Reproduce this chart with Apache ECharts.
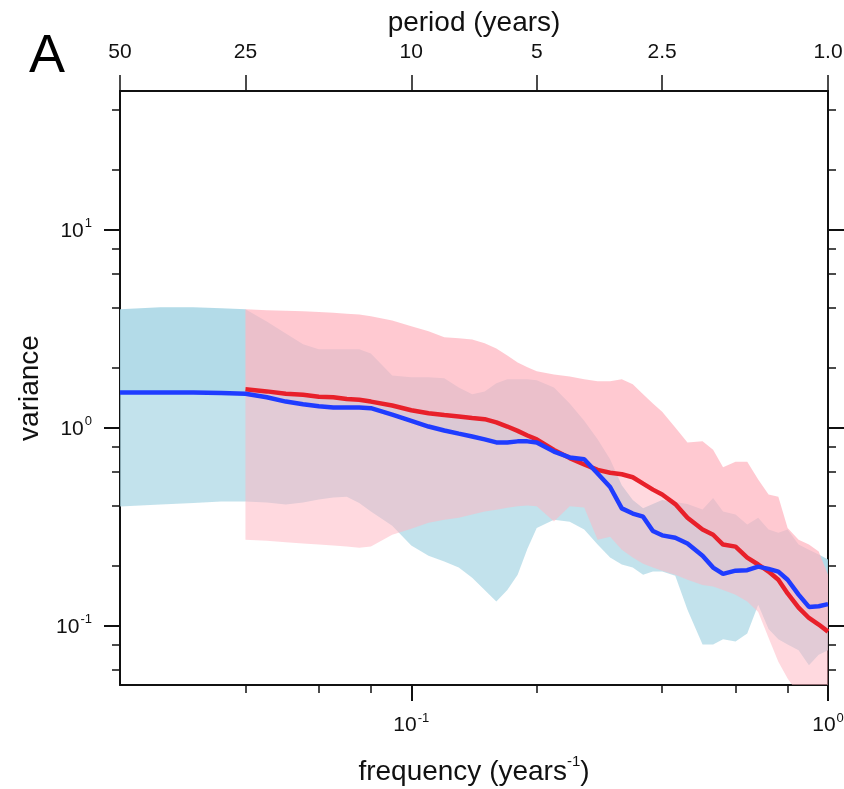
<!DOCTYPE html>
<html>
<head>
<meta charset="utf-8">
<script src="https://cdn.jsdelivr.net/npm/echarts@6/dist/echarts.min.js"></script>
<style>
html,body{margin:0;padding:0;background:#fff;}
#chart{width:844px;height:789px;}
</style>
</head>
<body>
<div id="chart"></div>
<script>
// ---- data ----
const freq = [0.02,0.025,0.03,0.035,0.04,
  0.045,0.05,0.055,0.06,0.065,0.07,0.075,0.08,
  0.09,0.1,0.11,0.12,0.13,0.14,0.15,0.16,0.17,0.18,0.19,0.2,
  0.22,0.24,0.26,0.28,0.3,0.32,0.34,0.36,0.38,0.4,
  0.43,0.46,0.5,0.53,0.56,0.6,0.64,0.68,0.72,0.76,0.8,0.85,0.9,0.95,1.0];

const blueMean = [1.50,1.50,1.50,1.49,1.48,
  1.42,1.35,1.31,1.28,1.26,1.26,1.26,1.25,
  1.16,1.08,1.01,0.965,0.93,0.90,0.87,0.84,0.84,0.85,0.85,0.84,
  0.755,0.705,0.69,0.585,0.50,0.39,0.367,0.354,0.30,0.285,
  0.277,0.259,0.225,0.196,0.182,0.189,0.19,0.198,0.193,0.187,0.17,0.143,0.124,0.125,0.128];
const blueUpper = [3.95,4.04,4.04,4.0,3.95,
  3.43,2.98,2.63,2.48,2.48,2.48,2.48,2.36,
  1.83,1.79,1.79,1.77,1.59,1.47,1.52,1.67,1.75,1.75,1.75,1.73,
  1.59,1.32,1.08,0.87,0.69,0.51,0.43,0.39,0.41,0.43,
  0.42,0.41,0.385,0.44,0.376,0.363,0.323,0.35,0.305,0.294,0.305,0.256,0.241,0.228,0.215];
const blueLower = [0.398,0.408,0.415,0.422,0.422,
  0.417,0.408,0.417,0.432,0.442,0.447,0.415,0.376,
  0.319,0.253,0.225,0.21,0.196,0.174,0.151,0.132,0.151,0.18,0.244,0.31,
  0.342,0.334,0.305,0.256,0.22,0.203,0.196,0.18,0.187,0.187,
  0.178,0.12,0.080,0.080,0.085,0.083,0.091,0.127,0.096,0.085,0.080,0.075,0.063,0.071,0.075];

const redMean = [null,null,null,null,1.56,
  1.52,1.48,1.46,1.43,1.42,1.39,1.38,1.35,
  1.29,1.22,1.18,1.155,1.135,1.116,1.10,1.06,1.01,0.96,0.91,0.87,
  0.77,0.70,0.65,0.61,0.59,0.58,0.56,0.52,0.485,0.458,
  0.41,0.35,0.305,0.287,0.256,0.25,0.22,0.203,0.187,0.17,0.145,0.123,0.109,0.101,0.093];
const redUpper = [null,null,null,null,3.95,
  3.90,3.88,3.86,3.83,3.79,3.75,3.72,3.64,
  3.47,3.24,3.06,2.85,2.82,2.78,2.66,2.50,2.31,2.13,2.01,1.92,
  1.85,1.81,1.75,1.71,1.71,1.75,1.65,1.47,1.32,1.20,
  1.0,0.84,0.85,0.77,0.63,0.67,0.67,0.545,0.458,0.447,0.31,0.271,0.256,0.236,0.18];
const redLower = [null,null,null,null,0.271,
  0.268,0.263,0.259,0.256,0.253,0.25,0.247,0.25,
  0.287,0.308,0.33,0.342,0.35,0.363,0.376,0.384,0.393,0.40,0.403,0.40,
  0.335,0.40,0.394,0.271,0.28,0.241,0.22,0.205,0.196,0.189,
  0.18,0.17,0.16,0.157,0.151,0.143,0.132,0.117,0.0865,0.0655,0.054,0.045,0.042,0.042,0.042];

const freqMajorTicks = [0.1, 1];
const freqMinorTicks = [0.04, 0.06, 0.08, 0.2, 0.4, 0.6, 0.8];
const periodTicks = [0.02, 0.04, 0.1, 0.2, 0.4, 1.0];
const periodLabels = ['50', '25', '10', '5', '2.5', '1.0'];
const varMajorTicks = [0.1, 1, 10];
const varMinorTicks = [0.06, 0.08, 0.2, 0.4, 0.6, 0.8, 2, 4, 6, 8, 20, 40];

// ---- helpers ----
function pairs(xs, ys) {
  const out = [];
  for (let i = 0; i < xs.length; i++) if (ys[i] != null) out.push([xs[i], ys[i]]);
  return out;
}
function bandSeries(top, bottom, color, z) {
  const a = pairs(freq, top), b = pairs(freq, bottom);
  return {
    type: 'custom', coordinateSystem: 'cartesian2d', xAxisIndex: 0, yAxisIndex: 0,
    clip: true, silent: true, z: z,
    data: [[0.1, 1]],
    renderItem: function (params, api) {
      const pts = [];
      for (let i = 0; i < a.length; i++) pts.push(api.coord(a[i]));
      for (let i = b.length - 1; i >= 0; i--) pts.push(api.coord(b[i]));
      return { type: 'polygon', shape: { points: pts }, style: { fill: color, stroke: null } };
    }
  };
}
function powLabel(v) {
  const e = Math.round(Math.log10(v));
  return '{b|10}{s|' + e + '}';
}
const FONT = 'Liberation Sans';
const richLab = {
  b: { fontSize: 21, fontFamily: FONT, color: '#111', lineHeight: 24, verticalAlign: 'bottom' },
  s: { fontSize: 13, fontFamily: FONT, color: '#111', lineHeight: 24, verticalAlign: 'top', padding: [0, 0, 0, 1] }
};
const lineAx = { show: true, lineStyle: { color: '#111', width: 2 } };
const common = { type: 'log', logBase: 10, splitLine: { show: false } };

const chart = echarts.init(document.getElementById('chart'), null, { renderer: 'canvas' });
chart.setOption({
  animation: false,
  backgroundColor: '#fff',
  grid: { left: 120, right: 16, top: 91, bottom: 104, containLabel: false, outerBoundsMode: 'none' },
  graphic: [{
    type: 'text', left: 29, top: 30,
    style: { text: 'A', fontSize: 54, fontFamily: FONT, fill: '#000' }
  }],
  xAxis: [
    Object.assign({}, common, {
      position: 'bottom', min: 0.02, max: 1,
      axisLine: lineAx,
      axisTick: { show: true, inside: false, length: 16, customValues: freqMajorTicks, lineStyle: { color: '#111', width: 2 } },
      axisLabel: { show: true, customValues: freqMajorTicks, margin: 27, formatter: powLabel, rich: richLab, showMinLabel: true, showMaxLabel: true },
      name: '{n|frequency (years}{s|-1}{n|)}', nameLocation: 'middle', nameGap: 69,
      nameTextStyle: { rich: {
        n: { fontSize: 28, fontFamily: FONT, color: '#111', lineHeight: 32, verticalAlign: 'bottom' },
        s: { fontSize: 15, fontFamily: FONT, color: '#111', lineHeight: 32, verticalAlign: 'top' }
      } }
    }),
    Object.assign({}, common, {
      position: 'bottom', min: 0.02, max: 1,
      axisLine: { show: false },
      axisTick: { show: true, inside: false, length: 8, customValues: freqMinorTicks, lineStyle: { color: '#111', width: 1.5 } },
      axisLabel: { show: false }
    }),
    Object.assign({}, common, {
      position: 'top', min: 0.02, max: 1,
      axisLine: lineAx,
      axisTick: { show: true, inside: false, length: 16, customValues: periodTicks, lineStyle: { color: '#111', width: 1.5 } },
      axisLabel: {
        show: true, customValues: periodTicks, margin: 28, showMinLabel: true, showMaxLabel: true,
        fontSize: 21, fontFamily: FONT, color: '#111',
        formatter: function (v) {
          let best = 0;
          for (let i = 0; i < periodTicks.length; i++)
            if (Math.abs(Math.log(periodTicks[i] / v)) < Math.abs(Math.log(periodTicks[best] / v))) best = i;
          return periodLabels[best];
        }
      },
      name: 'period (years)', nameLocation: 'middle', nameGap: 50,
      nameTextStyle: { fontSize: 28, fontFamily: FONT, color: '#111' }
    })
  ],
  yAxis: [
    Object.assign({}, common, {
      position: 'left', min: 0.05, max: 50,
      axisLine: lineAx,
      axisTick: { show: true, inside: false, length: 16, customValues: varMajorTicks, lineStyle: { color: '#111', width: 2 } },
      axisLabel: { show: true, customValues: varMajorTicks, margin: 28, formatter: powLabel, rich: richLab },
      name: 'variance', nameLocation: 'middle', nameGap: 76,
      nameTextStyle: { fontSize: 28, fontFamily: FONT, color: '#111' }
    }),
    Object.assign({}, common, {
      position: 'left', min: 0.05, max: 50,
      axisLine: { show: false },
      axisTick: { show: true, inside: false, length: 8, customValues: varMinorTicks, lineStyle: { color: '#111', width: 1.5 } },
      axisLabel: { show: false }
    }),
    Object.assign({}, common, {
      position: 'right', min: 0.05, max: 50,
      axisLine: lineAx,
      axisTick: { show: true, inside: false, length: 16, customValues: varMajorTicks, lineStyle: { color: '#111', width: 2 } },
      axisLabel: { show: false }
    }),
    Object.assign({}, common, {
      position: 'right', min: 0.05, max: 50,
      axisLine: { show: false },
      axisTick: { show: true, inside: false, length: 8, customValues: varMinorTicks, lineStyle: { color: '#111', width: 1.5 } },
      axisLabel: { show: false }
    })
  ],
  series: [
    bandSeries(blueUpper, blueMean, 'rgba(173,216,230,0.92)', 1),
    bandSeries(blueMean, blueLower, 'rgba(173,216,230,0.75)', 1),
    bandSeries(redUpper, redMean, 'rgba(255,182,193,0.74)', 2),
    bandSeries(redMean, redLower, 'rgba(255,182,193,0.52)', 2),
    {
      type: 'line', xAxisIndex: 0, yAxisIndex: 0, z: 3, data: pairs(freq, redMean),
      showSymbol: false, symbol: 'none', silent: true,
      lineStyle: { color: '#e8202a', width: 4.5 }
    },
    {
      type: 'line', xAxisIndex: 0, yAxisIndex: 0, z: 4, data: pairs(freq, blueMean),
      showSymbol: false, symbol: 'none', silent: true,
      lineStyle: { color: '#1f3cff', width: 4.5 }
    }
  ]
});
</script>
</body>
</html>
